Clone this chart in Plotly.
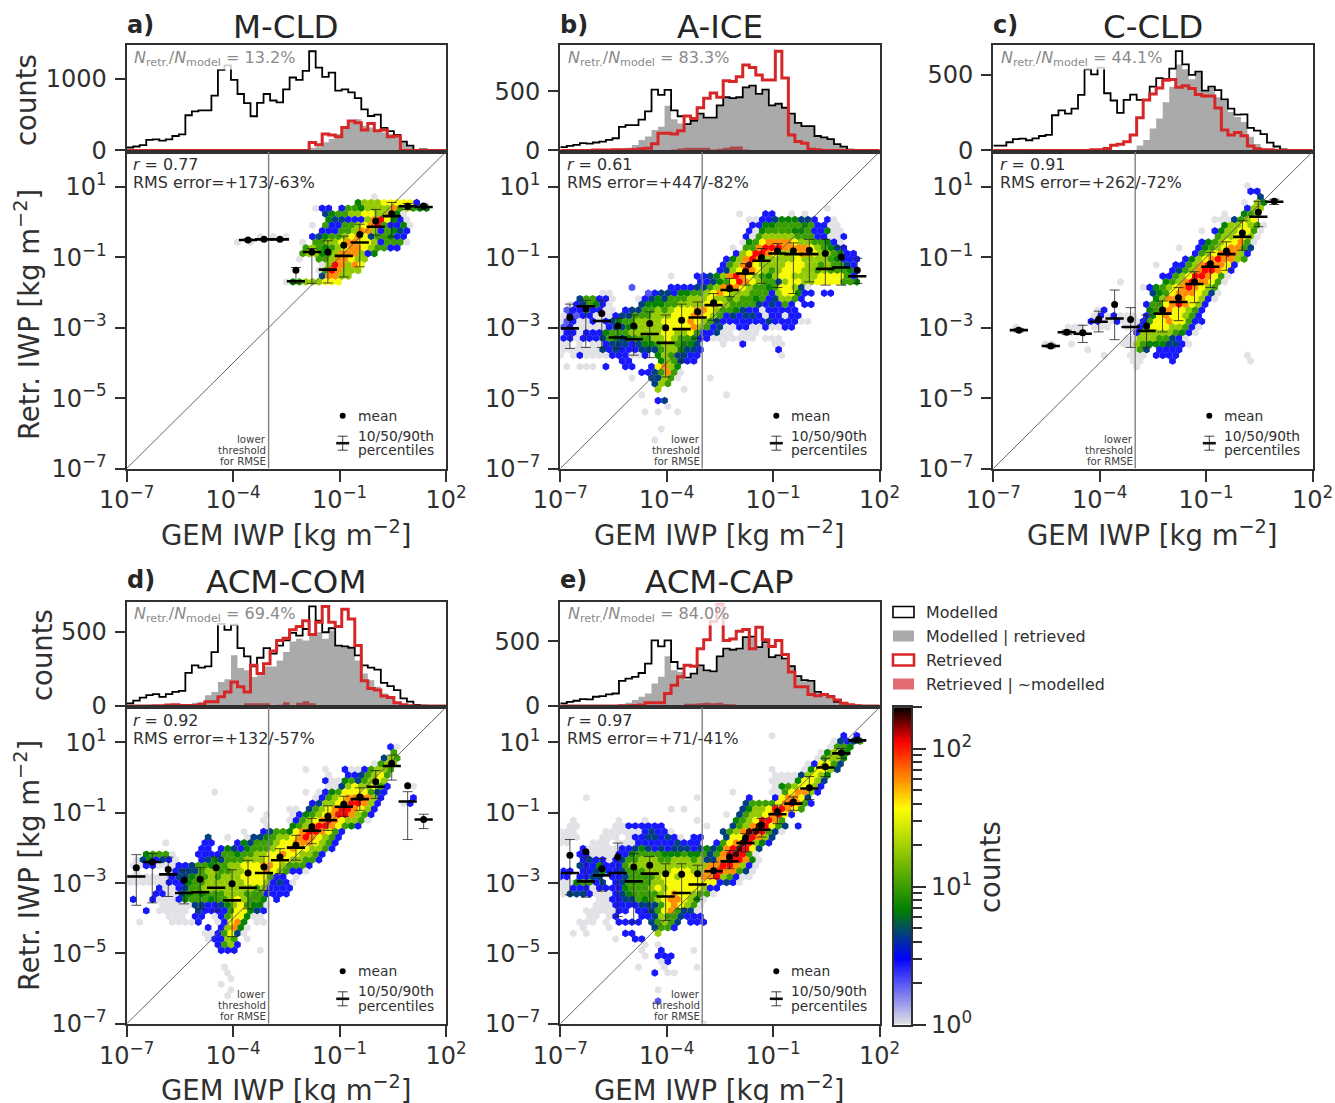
import math
import plotly.graph_objects as go

W, H = 1335, 1103
NBINS = 49
NAMES = ["M-CLD", "A-ICE", "C-CLD", "ACM-COM", "ACM-CAP"]
LETTERS = ["a)", "b)", "c)", "d)", "e)"]
RATIOS = ["13.2", "83.3", "44.1", "69.4", "84.0"]
CORR = ["0.77", "0.61", "0.91", "0.92", "0.97"]
RMS = ["+173/-63%", "+447/-82%", "+262/-72%", "+132/-57%", "+71/-41%"]
HIST_YMAX = [1466, 892, 695, 700, 808]
HIST_TICKS = [[0, 1000], [0, 500], [0, 500], [0, 500], [0, 500]]
THRESHOLD_LOG = -3.0

# ---- histograms: (first bin, counts per bin) ----
A_MODEL = (0, [41,55,73,146,155,137,155,201,224,489,543,557,557,763,1119,1183,982,785,658,475,662,785,694,667,849,1014,982,1105,1379,1151,1023,1082,831,849,808,726,571,479,498,315,269,215,123,68,9,14])
A_MODEL_RET = (28, [37,55,114,160,228,297,388,434,342,320,274,251,228,205,114,55,14])
A_RET = (28, [110,78,228,215,192,320,411,384,283,374,274,283,192,201])
A_RET_ONLY = (0, [])

B_MODEL = (0, [28,39,47,61,58,67,75,89,103,200,214,214,261,331,514,470,512,339,289,222,250,311,278,278,381,450,442,450,534,548,478,514,381,395,361,311,234,206,206,122,111,95,53,33,6,3])
B_MODEL_RET = (0, [0,0,3,6,6,8,8,8,11,17,22,47,89,117,172,200,378,264,228,214,242,306,272,272,375,445,436,445,528,542,472,509,375,389,356,306,228,200,200,117,106,89,47,28,6])
B_RET = (5, [3,3,3,5,5,6,8,14,19,56,145,145,139,167,292,270,361,442,486,450,589,584,623,723,701,639,595,595,840,612,131,75,61,11,6])
B_RET_ONLY = (17, [8,17,22,22,22,22,8,14,22,33,33,8])

C_MODEL = (0, [32,32,54,74,78,67,80,95,102,232,264,242,275,366,535,502,546,377,329,247,333,368,333,333,420,476,470,539,654,567,498,520,394,420,398,336,275,236,238,149,130,108,52,26,6,4])
C_MODEL_RET = (22, [32,69,145,210,318,420,567,535,470,513,390,411,351,329,253,221,188,91,43,15,4])
C_RET = (15, [4,4,13,35,41,58,102,216,333,372,411,463,468,416,426,409,368,359,359,279,134,102,119,97,30,11,4,4])
C_RET_ONLY = (0, [])

D_MODEL = (0, [18,36,56,73,80,62,80,95,102,222,273,258,266,362,551,511,546,389,333,266,324,389,351,406,440,491,473,517,668,573,495,522,406,400,391,340,273,258,244,155,133,107,51,29,7,2])
D_MODEL_RET = (5, [2,4,4,7,13,22,29,73,95,162,180,340,255,240,195,206,266,266,306,362,433,451,440,473,495,451,506,400,395,384,306,218,173,129,84,51,22,11,4])
D_RET = (4, [2,2,7,9,4,4,4,11,29,29,62,95,162,129,95,273,218,284,369,440,455,511,533,573,480,562,668,562,533,650,584,406,169,118,107,67,58,22,9,2])
D_RET_ONLY = (18, [18,18,18,18,7,9,26,7,22,33,18])

E_MODEL = (0, [21,33,41,54,51,72,77,90,97,195,213,226,256,328,508,462,508,341,290,220,251,315,277,269,385,444,436,444,533,538,456,495,379,392,367,308,231,200,195,110,90,77,33,21,8,3])
E_MODEL_RET = (9, [13,26,46,72,97,174,226,385,277,264,205,244,308,269,262,377,436,428,436,526,531,449,487,372,385,359,300,223,192,187,103,82,69,26,13,5])
E_RET = (9, [3,3,5,8,26,26,26,97,162,226,315,308,444,513,654,782,508,520,579,592,444,610,513,462,508,400,264,149,149,90,79,90,72,46,21,10,3])
E_RET_ONLY = (19, [18,18,21,26,21,26,15,13,8])

# ---- binned statistics, log10 of IWP ----
STAT_X = [-6.73,-6.28,-5.83,-5.38,-4.93,-4.48,-4.03,-3.58,-3.13,-2.68,-2.23,-1.78,-1.33,-0.88,-0.43,0.02,0.47,0.92,1.37]
A_BINS = [7,8,9,10,11,12,13,14,15,16,17,18]
A_MEAN = [-0.51,-0.49,-0.49,-1.37,-0.85,-0.85,-0.66,-0.35,0.03,0.24,0.45,0.46]
A_P50 = [-0.51,-0.49,-0.49,-1.68,-0.85,-1.35,-0.96,-0.58,-0.13,0.17,0.45,0.43]
A_P90 = [-0.48,-0.47,-0.47,-1.29,-0.75,-0.53,-0.40,-0.06,0.36,0.56,0.53,0.51]
A_P10 = [-0.53,-0.51,-0.51,-1.74,-1.74,-1.73,-1.56,-1.27,-0.37,-0.42,0.36,0.36]

B_BINS = list(range(19))
B_MEAN = [-2.71,-2.46,-2.60,-2.95,-2.95,-2.88,-3.00,-2.79,-2.55,-2.29,-1.89,-1.41,-1.01,-0.82,-0.82,-0.80,-0.89,-0.99,-1.37]
B_P50 = [-3.02,-2.39,-2.81,-3.28,-3.33,-3.18,-3.43,-3.04,-2.71,-2.36,-1.93,-1.46,-1.10,-0.89,-0.91,-0.91,-1.33,-1.29,-1.54]
B_P90 = [-2.33,-2.22,-2.22,-2.74,-2.64,-2.55,-2.64,-2.33,-2.27,-2.03,-1.60,-1.18,-0.75,-0.61,-0.59,-0.49,-0.49,-0.70,-1.03]
B_P10 = [-3.59,-3.56,-3.56,-3.59,-3.78,-3.85,-4.40,-3.97,-3.31,-2.79,-2.12,-1.79,-1.74,-1.86,-2.03,-1.70,-1.79,-1.79,-1.74]

C_BINS = [1,3,4,5,6,7,8,9,10,11,12,13,14,15,16,17]
C_MEAN = [-3.07,-3.52,-3.13,-3.14,-2.76,-2.34,-2.77,-2.95,-2.50,-2.15,-1.70,-1.18,-0.82,-0.31,0.28,0.59]
C_P50 = [-3.07,-3.52,-3.13,-3.17,-2.83,-2.74,-2.98,-3.09,-2.60,-2.27,-1.76,-1.27,-0.91,-0.42,0.15,0.58]
C_P90 = [-3.02,-3.47,-3.07,-2.93,-2.53,-1.93,-2.43,-2.64,-2.24,-1.86,-1.41,-0.86,-0.56,0.04,0.59,0.65]
C_P10 = [-3.12,-3.57,-3.19,-3.42,-3.12,-3.34,-3.56,-3.57,-3.12,-2.80,-2.29,-1.86,-1.37,-0.80,-0.13,0.50]

D_BINS = list(range(19))
D_MEAN = [-2.56,-2.40,-2.61,-2.92,-2.89,-2.56,-3.02,-2.71,-2.54,-2.26,-1.92,-1.40,-1.10,-0.76,-0.55,-0.12,0.41,-0.23,-1.19]
D_P50 = [-2.81,-2.40,-2.75,-3.28,-3.26,-3.13,-3.49,-3.13,-2.71,-2.35,-1.99,-1.51,-1.21,-0.83,-0.61,-0.26,0.33,-0.68,-1.19]
D_P90 = [-2.19,-2.16,-2.26,-2.64,-2.56,-2.26,-2.62,-2.35,-2.24,-2.02,-1.64,-1.16,-0.80,-0.53,-0.29,0.20,0.64,-0.40,-1.04]
D_P10 = [-3.63,-3.56,-3.38,-3.59,-3.73,-3.79,-4.52,-3.73,-3.21,-2.73,-2.35,-1.88,-1.50,-1.10,-0.93,-0.59,-0.07,-1.76,-1.45]

E_BINS = list(range(19))
E_MEAN = [-2.21,-2.11,-2.59,-2.26,-2.54,-2.49,-2.73,-2.75,-2.73,-2.65,-2.26,-1.73,-1.35,-0.97,-0.69,-0.29,0.31,0.71,1.07]
E_P50 = [-2.71,-2.95,-2.78,-2.71,-2.95,-2.73,-3.38,-3.28,-3.04,-2.66,-2.38,-1.86,-1.48,-1.04,-0.74,-0.31,0.29,0.69,1.06]
E_P90 = [-1.76,-2.26,-2.30,-1.86,-2.16,-2.24,-2.45,-2.45,-2.49,-2.40,-2.07,-1.59,-1.16,-0.78,-0.55,0.03,0.55,0.83,1.12]
E_P10 = [-3.33,-3.40,-3.23,-3.95,-4.11,-3.82,-4.06,-3.73,-3.46,-2.87,-2.59,-2.11,-1.69,-1.31,-0.93,-0.62,0.03,0.55,1.00]

# ---- hexbin cells: row -> (first column, one count level per column, '.' = empty) ----
LEVEL_COUNTS = {"0":1,"1":2,"2":2.7,"3":4.5,"4":7,"5":10,"6":18,"7":35,"8":60,"9":110,"k":170}

HEX_A = {
48:(38,"0"),47:(35,"4666777772"),46:(29,"022.25546666856544"),45:(30,"3455667766840"),
44:(31,"4332226897420"),43:(28,"0.52255678952240"),42:(30,"22255688625432"),
41:(20,"0.0.0..."+"234556787355422"),40:(17,"0.0"+"......."+"0.5"+"56678877625550"),
39:(27,"565456788765522"),38:(27,"566456888624"),37:(26,"0..55688766"),36:(30,"0698687"),
35:(29,"0598666"),34:(30,"38866"),33:(24,"045666777"),
}

HEX_B = {
46:(41,"0"),45:(27,"0...22..0.0"),44:(29,"00223444332.20"),43:(29,"22445555452200"),
42:(29,"204555544522400"),41:(28,"2056666655522002"),40:(28,"0457888876655420"),
39:(26,"0.5589998888765432"),38:(27,"2679987667887665422"),37:(25,"246898666667666654222"),
36:(25,"2568k"+"7666677766565532"),35:(24,"2367987656"+"7776656555"+"42"),
34:(17,"0..."+"2234689876546776666777752"),33:(21,"2234579876553677667777554"),
32:(11,"1....."+"2222335689876554577630"),31:(6,"00"+"....."+"12332445567876665552677422.22"),
30:(3,"355220...0"+"2343555666766565545236652"),29:(1,"0235420"+"...."+"34445566667876555532"+"3252.22"),
28:(1,"1224220"+"0."+"233556567778876554322"+"022222"),
27:(0,"02122000"+"2335556667"+"7788765232"+"332022022"),
26:(0,"0120020"+"2345566667"+"7778765322"+"2222232222"+"00"),
25:(0,"1200000"+"2334566667"+"7778652300"+"220020022"),
24:(0,"0220222"+"4555666667"+"7667522300"+".000"),
23:(0,"2202223"+"5434555667"+"6554220000"+"000.000"),
22:(0,"00.0.00"+"2333234456"+"65443"+"...0..2....00"),
21:(0,"0000003"+"2322233356"+"64332"+"..........."+"2"),
20:(0,"0.020000"+"222002.465"+"3322"+"............"+"0"),
19:(9,"22"+"...."+"465322"),18:(1,"0.000.2"+"..22.."+"27864"),17:(12,"2235850"),
16:(11,"0..33650....0"),15:(14,"365"),14:(15,"6...0"),13:(12,"0"+"............"+"0"),
12:(15,"23"),11:(16,"0"),10:(13,"0.0..0"),7:(15,"0"),5:(14,"0"),
}

HEX_C = {
50:(39,"0"),49:(39,"22"),48:(41,"3"),47:(38,"0.64"),46:(39,"266"),45:(35,"0..456"),
44:(34,"0003567"),43:(35,"4667650"),42:(32,"0.24667750"),41:(34,"5667760"),40:(32,"245677850"),
39:(28,"0..245678853"),38:(31,"256789862"),37:(29,"2467898865"),36:(25,"0..2256898872"),
35:(27,"2356899872"),34:(26,"22567998750"),33:(19,"0......"+"4568988750"),32:(23,"024567898765"),
31:(24,"34578887630"),30:(25,"4688877620"),29:(23,"2557898762"),28:(16,"02......"+"458877652"),
27:(15,"0202000.2"+"47877652"),26:(15,"220020002"+"577877522"),
25:(3,"0......."+"000.000..00"+"2577766520"),24:(11,"0000......."+"2666665420"),
23:(20,"0066655320"),22:(8,"00..0"+"......."+"00654443320"),21:(14,"0......0"+"53.2222"),
20:(17,"0..."+"000.2222"+".........."+"0"),19:(21,"00....2"+"..........."+"0"),18:(22,"0"),
}

HEX_D = {
49:(40,"20"),48:(41,"5"),47:(39,"365"),46:(38,"0566"),45:(27,"0..0..20025665"),
44:(31,"0..2235675"),43:(30,"2004535676"),42:(31,"0036766752"+"...0"),
41:(13,"0"+"............."+"0.02457777532"),40:(29,"02567889862"+"...."+"2"),
39:(28,"23667899862"+"..."+"02"),38:(19,"0"+"....."+"00.35678998762"),
37:(21,"0...02"+"45678998652"),36:(21,"0...0"+"256789876650"),35:(21,"0..."+"45689987542"),
34:(18,"0..2355478998752"),33:(12,"3..0..0"+"33456678987652"),
32:(6,"0.....2"+"2..."+"2"+"435556778887652"),31:(11,"22.24324"+"5556778776652"),
30:(3,"45550..."+"22225545566778776652"),29:(1,"0342320..."+"2343555666"+"777766552"),
28:(1,"0022000223"+"554556677788765552"),27:(1,"0....0"+"2333566556"+"6777876522"+"0"),
26:(0,"0000000"+"2334556566"+"67777522.0"),25:(0,"000000"+"2224556666"+"6677762320"),
24:(5,"200"+"2355666666"+"66562222"),23:(4,"2200"+"3454555666"+"5552222"),
22:(1,"2..2000"+"2455545567"+"6554.2"),21:(5,"00000"+"332234675440"),
20:(3,"2.00000."+"32222577432"),19:(6,"000."+"22.02577400"),
18:(2,"0....00002..02784.00"),17:(12,"2.26840"),16:(12,"0025730"),15:(12,"02265.0"),
14:(14,"2562"),13:(14,"222...0"),10:(15,"0"),9:(15,"0"),8:(16,"0"),7:(14,"0"),6:(16,"0"),5:(15,"0"),
}

HEX_E = {
51:(32,"0"+".........."+"2.2"),50:(42,"03235"),49:(41,"0554"),48:(40,"04674"),47:(39,"05664"),
46:(38,"027753"),45:(32,"0....047763"),44:(33,"000036764"),43:(32,"000047763"),42:(33,"04567762"),
41:(26,"0.....00"+"578862"),40:(4,"0"+"................"+"0"+"......."+"2"+"..."+"2"+"78873"),
39:(28,"35555789852"),38:(17,"0.0"+"........"+"3466799875"),37:(25,"0.356678972"),
36:(2,"0......0"+"...0"+"......."+"0"+"....."+"45679985"),
35:(1,"00"+"....."+"00222222"+"......"+"0"+"..."+"3568k9753.2"),
34:(0,"000"+"...."+"000000"+"23220"+"......."+"3"+"568kk9530"),
33:(0,"000"+"..."+"000.0"+"22332320.22"+"..."+"377k9863"),
32:(0,"00"+"..."+"000.000"+"2222223222"+".."+"2578k9642"),
31:(3,"2000002234"+"3232333234"+"3489k973"),30:(3,"22"+"0000"+"2245555444"+"54453589k9"+"50"),
29:(3,"232202"+"3556665566"+"6563388998"+"40"),28:(3,"322422"+"2566666666"+"6666889986"+"20"),
27:(0,"22.223422"+"3555666677"+"7668898853"+"0"),26:(0,"22.2233.2"+"2355556776"+"7778896520"+"0"),
25:(0,"0045523.2"+"3555566777"+"777772320"),24:(0,"0022202"+"2224555676"+"77777622"),
23:(0,"03332000"+"2345555678"+"776550"),22:(6,"00"+"2233545678"+"87640"),
21:(5,"000"+"2222333578"+"7650"),20:(4,"00000"+"22.2235785"+"330"),
19:(4,"00.02..."+"2236553222"),18:(3,"000.0."+"2222.35653.222"),17:(3,"0...0"+"......"+"3552"),
16:(2,"0.0.....22...6"),15:(8,"0..22"),14:(13,"0.0"),13:(12,"0..2....0"),12:(13,"0.222"),
11:(15,"02"),10:(12,"0...0....0"),9:(14,"2.00"),6:(15,"0"),4:(15,"1"),0:(22,"0"),
}

PANEL_HIST = [(A_MODEL,A_MODEL_RET,A_RET,A_RET_ONLY),(B_MODEL,B_MODEL_RET,B_RET,B_RET_ONLY),
              (C_MODEL,C_MODEL_RET,C_RET,C_RET_ONLY),(D_MODEL,D_MODEL_RET,D_RET,D_RET_ONLY),
              (E_MODEL,E_MODEL_RET,E_RET,E_RET_ONLY)]
PANEL_STATS = [(A_BINS,A_MEAN,A_P50,A_P90,A_P10),(B_BINS,B_MEAN,B_P50,B_P90,B_P10),
               (C_BINS,C_MEAN,C_P50,C_P90,C_P10),(D_BINS,D_MEAN,D_P50,D_P90,D_P10),
               (E_BINS,E_MEAN,E_P50,E_P90,E_P10)]
PANEL_HEX = [HEX_A, HEX_B, HEX_C, HEX_D, HEX_E]

# ---- styling / layout ----
INK = "#303030"
FONT = "DejaVu Sans"
COLORSCALE = [[0,"#e2e2e6"],[0.21,"#0000ff"],[0.36,"#008000"],[0.68,"#ffff00"],[0.89,"#ff0000"],[1,"#000000"]]
LOG_VMAX = math.log10(200)
PANEL_X = [126.7, 560.3, 993.3, 126.7, 560.3]
PANEL_W = 319.3
ROWS = [(45.0, 151.7, 468.5), (601.7, 707.3, 1023.8)]

def px(v): return v / W
def py(v): return 1 - v / H
def tenpow(vals): return [10 ** v for v in vals]
def expand(spec):
    start, vals = spec
    out = [0] * NBINS
    for k, v in enumerate(vals):
        out[start + k] = v
    return out

EDGES = [10 ** (-7 + 9 * k / NBINS) for k in range(NBINS + 1)]
def step(vals): return EDGES, list(vals) + [vals[-1]]

def power(e): return "10<sup>%s</sup>" % str(e).replace("-", "\u2212")

fig = go.Figure()
layout = dict(width=W, height=H, margin=dict(l=0, r=0, t=0, b=0, pad=0), autosize=False, showlegend=False,
              paper_bgcolor="white", plot_bgcolor="white", font=dict(family=FONT, color=INK),
              hovermode=False, template="none")
annots, shapes = [], []

def txt(x, y, s, size, color=INK, anchor="left", rot=0):
    annots.append(dict(xref="paper", yref="paper", x=px(x), y=py(y), text=s, showarrow=False,
                       xanchor=anchor, yanchor="middle", textangle=rot,
                       font=dict(family=FONT, size=size, color=color), borderpad=0, borderwidth=0))

for p in range(5):
    r = 0 if p < 3 else 1
    x0 = PANEL_X[p]; x1 = x0 + PANEL_W
    top, mid, bot = ROWS[r]
    ax_top = 2 * p + 1; ax_bot = 2 * p + 2
    nm = lambda n: "" if n == 1 else str(n)
    xt, yt = "x" + nm(ax_top), "y" + nm(ax_top)
    xb, yb = "x" + nm(ax_bot), "y" + nm(ax_bot)
    frame = dict(showline=True, mirror=True, linewidth=2.2, linecolor=INK, showgrid=False, zeroline=False,
                 automargin=False)
    tickfont = dict(family=FONT, size=24, color=INK)
    layout["xaxis" + nm(ax_top)] = dict(frame, type="log", range=[-7, 2], domain=[px(x0), px(x1)], anchor=yt,
                                        showticklabels=False, ticks="")
    layout["yaxis" + nm(ax_top)] = dict(frame, range=[-HIST_YMAX[p] * 0.012, HIST_YMAX[p]],
                                        domain=[py(mid), py(top)], anchor=xt,
                                        tickvals=HIST_TICKS[p], ticks="outside", ticklen=10, tickwidth=2.2,
                                        tickcolor=INK, tickfont=tickfont, ticklabelstandoff=3)
    xtv = [1e-7, 1e-4, 1e-1, 1e2]
    layout["xaxis" + nm(ax_bot)] = dict(frame, type="log", range=[-7, 2], domain=[px(x0), px(x1)], anchor=yb,
                                        tickvals=xtv, ticktext=[power(e) for e in (-7, -4, -1, 2)],
                                        ticks="outside", ticklen=11, tickwidth=2.2, tickcolor=INK, tickfont=tickfont,
                                        ticklabelstandoff=-2)
    layout["yaxis" + nm(ax_bot)] = dict(frame, type="log", range=[-7, 2], domain=[py(bot), py(mid)], anchor=xb,
                                        tickvals=[1e-7, 1e-5, 1e-3, 1e-1, 1e1],
                                        ticktext=[power(e) for e in (-7, -5, -3, -1, 1)],
                                        ticks="outside", ticklen=10, tickwidth=2.2, tickcolor=INK, tickfont=tickfont,
                                        ticklabelstandoff=3)

    # histograms
    model, model_ret, ret, ret_only = [expand(s) for s in PANEL_HIST[p]]
    ex, ey = step(model_ret)
    fig.add_trace(go.Scatter(x=ex, y=ey, mode="lines", line=dict(shape="hv", width=0), fill="tozeroy",
                             fillcolor="#aaaaaa", xaxis=xt, yaxis=yt, hoverinfo="skip"))
    if any(ret_only):
        ex, ey = step(ret_only)
        fig.add_trace(go.Scatter(x=ex, y=ey, mode="lines", line=dict(shape="hv", width=0), fill="tozeroy",
                                 fillcolor="rgba(170,35,40,0.72)", xaxis=xt, yaxis=yt, hoverinfo="skip"))
    ex, ey = step(model)
    fig.add_trace(go.Scatter(x=ex, y=ey, mode="lines", line=dict(shape="hv", width=1.8, color="#000000"),
                             xaxis=xt, yaxis=yt, hoverinfo="skip"))
    ex, ey = step(ret)
    fig.add_trace(go.Scatter(x=ex, y=ey, mode="lines", line=dict(shape="hv", width=3, color="#d62728"),
                             xaxis=xt, yaxis=yt, hoverinfo="skip"))

    # hexbin cells on the bin lattice
    hx, hy, hc = [], [], []
    for row, (start, cells) in PANEL_HEX[p].items():
        for k, ch in enumerate(cells):
            if ch == ".":
                continue
            col = start + k + (0.5 if row % 2 else 0.0)
            hx.append(10 ** (-7 + col * 9 / 49))
            hy.append(10 ** (-7 + row * 9 / 56))
            hc.append(math.log10(LEVEL_COUNTS[ch]))
    fig.add_trace(go.Scatter(x=hx, y=hy, mode="markers", xaxis=xb, yaxis=yb, hoverinfo="skip",
                             marker=dict(symbol="hexagon", size=7.7, color=hc, cmin=0, cmax=LOG_VMAX,
                                         colorscale=COLORSCALE, line=dict(width=0), showscale=False)))
    # reference lines
    fig.add_trace(go.Scatter(x=[1e-7, 1e2], y=[1e-7, 1e2], mode="lines", line=dict(color="#555555", width=0.9),
                             xaxis=xb, yaxis=yb, hoverinfo="skip"))
    fig.add_trace(go.Scatter(x=[10 ** THRESHOLD_LOG] * 2, y=[1e-7, 1e2], mode="lines",
                             line=dict(color="#808080", width=1.4), xaxis=xb, yaxis=yb, hoverinfo="skip"))
    # statistics
    bins, mean, p50, p90, p10 = PANEL_STATS[p]
    sx = tenpow([STAT_X[k] for k in bins])
    med = tenpow(p50)
    fig.add_trace(go.Scatter(x=sx, y=med, mode="markers", xaxis=xb, yaxis=yb, hoverinfo="skip",
                             marker=dict(symbol="line-ew", size=13, color="#000000",
                                         line=dict(width=2.6, color="#000000")),
                             error_y=dict(type="data", symmetric=False,
                                          array=[a - b for a, b in zip(tenpow(p90), med)],
                                          arrayminus=[b - a for a, b in zip(tenpow(p10), med)],
                                          color="#222222", thickness=0.8, width=5)))
    fig.add_trace(go.Scatter(x=sx, y=tenpow(mean), mode="markers", xaxis=xb, yaxis=yb, hoverinfo="skip",
                             marker=dict(symbol="circle", size=7, color="#000000")))

    # texts
    txt((x0 + x1) / 2, top - (18 if r == 0 else 20), NAMES[p], 32.5, "#262626", "center")
    txt(x0, top - (20 if r == 0 else 21.5), "<b>%s</b>" % LETTERS[p], 24, "#262626")
    a = dict(xref="paper", yref="paper", x=px(x0 + 6.5), y=py(top + 13),
             text="<i>N</i><sub>retr.</sub>/<i>N</i><sub>model</sub> = %s%%" % RATIOS[p], showarrow=False,
             xanchor="left", yanchor="middle", font=dict(family=FONT, size=16, color="#8a8a8a"),
             bgcolor="rgba(255,255,255,0.8)", borderpad=0)
    annots.append(a)
    txt(x0 + 6.5, mid + 13, "<i>r</i> = %s" % CORR[p], 15.9)
    txt(x0 + 6.5, mid + 31, "RMS error=%s" % RMS[p], 15.9)
    tx = x0 + 139.5
    for j, line in enumerate(["lower", "threshold", "for RMSE"]):
        txt(tx, mid + 287.5 + 11 * j, line, 10.2, "#404040", "right")
    txt(x0 + 231, mid + 264, "mean", 13.8)
    txt(x0 + 231, mid + 284, "10/50/90th", 13.8)
    txt(x0 + 231, mid + 298.5, "percentiles", 13.8)
    cx = x0 + 216
    shapes.append(dict(type="circle", xref="paper", yref="paper", x0=px(cx - 3), x1=px(cx + 3),
                       y0=py(mid + 264 + 3), y1=py(mid + 264 - 3), fillcolor="#000000", line=dict(width=0)))
    gy = mid + 291.5
    for seg, wd in (((cx, gy - 7, cx, gy + 7), 0.8), ((cx - 5, gy - 7, cx + 5, gy - 7), 0.8),
                    ((cx - 5, gy + 7, cx + 5, gy + 7), 0.8), ((cx - 6.5, gy, cx + 6.5, gy), 2.6)):
        shapes.append(dict(type="line", xref="paper", yref="paper", x0=px(seg[0]), y0=py(seg[1]),
                           x1=px(seg[2]), y1=py(seg[3]), line=dict(color="#111111", width=wd)))
    txt((x0 + x1) / 2, bot + 64.5, "GEM IWP [kg m<sup>\u22122</sup>]", 27.5, INK, "center")

txt(27, 315, "Retr. IWP [kg m<sup>\u22122</sup>]", 27.5, INK, "center", -90)
txt(27, 866, "Retr. IWP [kg m<sup>\u22122</sup>]", 27.5, INK, "center", -90)
txt(26, 100, "counts", 27.5, INK, "center", -90)
txt(42, 655, "counts", 27.5, INK, "center", -90)
txt(990, 867, "counts", 27.5, INK, "center", -90)

# legend
LEG_LABELS = ["Modelled", "Modelled | retrieved", "Retrieved", "Retrieved | ~modelled"]
LEG_Y = [612, 636, 660, 684]
LEG_FILL = ["white", "#aaaaaa", "white", "#e36c72"]
LEG_LINE = ["#000000", None, "#d62728", None]
LEG_LW = [1.6, 0, 2.6, 0]
for lab, y, fc, lc, lw in zip(LEG_LABELS, LEG_Y, LEG_FILL, LEG_LINE, LEG_LW):
    shapes.append(dict(type="rect", xref="paper", yref="paper", x0=px(893), x1=px(914), y0=py(y + 5.5),
                       y1=py(y - 5.5), fillcolor=fc, line=dict(width=lw, color=lc or fc)))
    txt(926, y, lab, 15.9)

# colour bar: heat ramp on its own log axis
CB_VALUES = [10 ** (LOG_VMAX * k / 255) for k in range(256)]
fig.add_trace(go.Heatmap(x=[0, 1], y=CB_VALUES, z=[[math.log10(v)] for v in CB_VALUES], zmin=0, zmax=LOG_VMAX,
                         colorscale=COLORSCALE, showscale=False, xaxis="x11", yaxis="y11", hoverinfo="skip"))
layout["xaxis11"] = dict(domain=[px(894), px(911)], range=[0, 1], anchor="y11", showticklabels=False, ticks="",
                         showline=True, mirror=True, linewidth=2.2, linecolor=INK, showgrid=False, zeroline=False,
                         automargin=False)
layout["yaxis11"] = dict(domain=[py(1024.5), py(707.3)], type="log", range=[0, LOG_VMAX], anchor="x11", side="right",
                         showline=True, mirror=True, linewidth=2.2, linecolor=INK, showgrid=False, zeroline=False,
                         automargin=False, tickvals=[1, 10, 100], ticktext=[power(0), power(1), power(2)],
                         ticks="outside", ticklen=13, tickwidth=2.2, tickcolor=INK,
                         tickfont=dict(family=FONT, size=24, color=INK),
                         minor=dict(ticks="outside", ticklen=9, tickwidth=2, tickcolor=INK,
                                    tickvals=[2,3,4,5,6,7,8,9,20,30,40,50,60,70,80,90,200], showgrid=False))

layout["annotations"] = annots
layout["shapes"] = shapes
fig.update_layout(**layout)
fig.write_html("out.html", post_script="document.body.style.margin='0';", config={"displayModeBar": False})
